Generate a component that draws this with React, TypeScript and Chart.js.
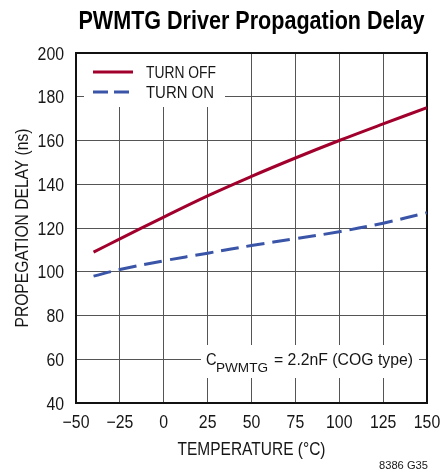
import React, { useEffect, useRef } from "react";
import { Chart, registerables } from "chart.js";

Chart.register(...registerables);

const temperatures = [-40, -25, 0, 25, 50, 75, 100, 125, 150];
const turnOffDelay = [109, 115, 125, 134.7, 143.6, 152, 160, 167.6, 175];
const turnOnDelay = [98, 101, 105, 108.5, 112, 115.1, 118.3, 122.2, 127];

const xTicks = [-50, -25, 0, 25, 50, 75, 100, 125, 150];
const yTicks = [40, 60, 80, 100, 120, 140, 160, 180, 200];

const TITLE = "PWMTG Driver Propagation Delay";
const X_TITLE = "TEMPERATURE (°C)";
const Y_TITLE = "PROPEGATION DELAY (ns)";
const LEGEND_OFF = "TURN OFF";
const LEGEND_ON = "TURN ON";
const NOTE_MAIN = "C";
const NOTE_SUB = "PWMTG";
const NOTE_REST = "= 2.2nF (COG type)";
const FIG_ID = "8386 G35";

const RED = "#A2002C";
const BLUE = "#3A55A8";
const FONT = "'Liberation Sans', Arial, sans-serif";
const TEXT = "#161616";

function fitText(
  ctx: CanvasRenderingContext2D,
  text: string,
  x: number,
  y: number,
  width: number,
  font: string,
  align: CanvasTextAlign,
  color = TEXT
) {
  ctx.save();
  ctx.font = font;
  const w = ctx.measureText(text).width;
  const s = w > 0 ? width / w : 1;
  ctx.translate(x, y);
  ctx.scale(s, 1);
  ctx.textAlign = align;
  ctx.textBaseline = "alphabetic";
  ctx.fillStyle = color;
  ctx.fillText(text, 0, 0);
  ctx.restore();
}

function narrowText(
  ctx: CanvasRenderingContext2D,
  text: string,
  x: number,
  y: number,
  font: string,
  squeeze: number,
  align: CanvasTextAlign,
  color = TEXT
) {
  ctx.save();
  ctx.font = font;
  ctx.translate(x, y);
  ctx.scale(squeeze, 1);
  ctx.textAlign = align;
  ctx.textBaseline = "alphabetic";
  ctx.fillStyle = color;
  ctx.fillText(text, 0, 0);
  ctx.restore();
}

const decorPlugin = {
  id: "decor",
  beforeDatasetsDraw(chart: any) {
    const ctx: CanvasRenderingContext2D = chart.ctx;
    const a = chart.chartArea;
    ctx.save();
    ctx.fillStyle = "#fff";
    ctx.fillRect(84, a.top + 1, 141, 107 - a.top - 1);
    ctx.fillRect(201, 345, 218, 33);
    ctx.strokeStyle = "#111";
    ctx.lineWidth = 2;
    ctx.strokeRect(a.left, a.top, a.right - a.left, a.bottom - a.top);
    ctx.restore();
  },
  afterDatasetsDraw(chart: any) {
    const ctx: CanvasRenderingContext2D = chart.ctx;
    const a = chart.chartArea;
    const xs = chart.scales.x;
    const ys = chart.scales.y;

    xTicks.forEach((v) => {
      const label = String(v).replace("-", "\u2212");
      narrowText(ctx, label, xs.getPixelForValue(v), 428, `18px ${FONT}`, 0.88, "center");
    });
    yTicks.forEach((v) => {
      narrowText(ctx, String(v), 64, ys.getPixelForValue(v) + 6.5, `18px ${FONT}`, 0.88, "right");
    });

    ctx.save();
    ctx.lineWidth = 3;
    ctx.strokeStyle = RED;
    ctx.beginPath();
    ctx.moveTo(93, 72);
    ctx.lineTo(133, 72);
    ctx.stroke();
    ctx.strokeStyle = BLUE;
    ctx.setLineDash([15, 6]);
    ctx.beginPath();
    ctx.moveTo(93, 92);
    ctx.lineTo(133, 92);
    ctx.stroke();
    ctx.setLineDash([]);
    ctx.restore();

    fitText(ctx, LEGEND_OFF, 146, 78, 70, `17px ${FONT}`, "left");
    fitText(ctx, LEGEND_ON, 146, 98, 68, `17px ${FONT}`, "left");

    narrowText(ctx, NOTE_MAIN, 206, 364.5, `17px ${FONT}`, 0.86, "left");
    fitText(ctx, NOTE_SUB, 216, 371.5, 52, `13px ${FONT}`, "left");
    fitText(ctx, NOTE_REST, 274, 364.5, 139, `16px ${FONT}`, "left");

    const cx = (a.left + a.right) / 2;
    fitText(ctx, TITLE, cx, 29, 346, `bold 25px ${FONT}`, "center", "#000");
    fitText(ctx, X_TITLE, cx, 455, 148, `19px ${FONT}`, "center");
    ctx.save();
    ctx.translate(28, (a.top + a.bottom) / 2);
    ctx.rotate(-Math.PI / 2);
    fitText(ctx, Y_TITLE, 0, 0, 199, `19px ${FONT}`, "center");
    ctx.restore();
    fitText(ctx, FIG_ID, 428, 469, 49, `10px ${FONT}`, "right");
  },
};

export default function App() {
  const ref = useRef<HTMLCanvasElement | null>(null);
  useEffect(() => {
    document.body.style.margin = "0";
    const canvas = ref.current!;
    const chart = new Chart(canvas, {
      type: "line",
      data: {
        datasets: [
          {
            label: LEGEND_OFF,
            data: temperatures.map((t, i) => ({ x: t, y: turnOffDelay[i] })),
            borderColor: RED,
            borderWidth: 3,
            pointRadius: 0,
            tension: 0.4,
            fill: false,
          },
          {
            label: LEGEND_ON,
            data: temperatures.map((t, i) => ({ x: t, y: turnOnDelay[i] })),
            borderColor: BLUE,
            borderWidth: 3,
            borderDash: [18, 8],
            pointRadius: 0,
            tension: 0.4,
            fill: false,
          },
        ],
      },
      options: {
        responsive: false,
        animation: false,
        events: [],
        layout: { padding: { top: 53, right: 14, left: 0, bottom: 0 } },
        plugins: {
          legend: { display: false },
          title: { display: false },
          tooltip: { enabled: false },
        },
        scales: {
          x: {
            type: "linear",
            min: xTicks[0],
            max: xTicks[xTicks.length - 1],
            afterBuildTicks: (s: any) => {
              s.ticks = xTicks.map((v) => ({ value: v }));
            },
            afterFit: (s: any) => {
              s.height = 68;
              s.paddingLeft = 0;
              s.paddingRight = 0;
            },
            grid: { color: "#555", lineWidth: 1, drawTicks: false },
            border: { display: true, color: "#111", width: 2 },
            ticks: { display: false },
          },
          y: {
            type: "linear",
            min: yTicks[0],
            max: yTicks[yTicks.length - 1],
            afterBuildTicks: (s: any) => {
              s.ticks = yTicks.map((v) => ({ value: v }));
            },
            afterFit: (s: any) => {
              s.width = 76;
              s.paddingTop = 0;
              s.paddingBottom = 0;
            },
            grid: { color: "#555", lineWidth: 1, drawTicks: false },
            border: { display: true, color: "#111", width: 2 },
            ticks: { display: false },
          },
        },
      },
      plugins: [decorPlugin],
    } as any);
    return () => chart.destroy();
  }, []);
  return (
    <canvas
      ref={ref}
      width={441}
      height={471}
      style={{ display: "block", width: 441, height: 471 }}
    />
  );
}
